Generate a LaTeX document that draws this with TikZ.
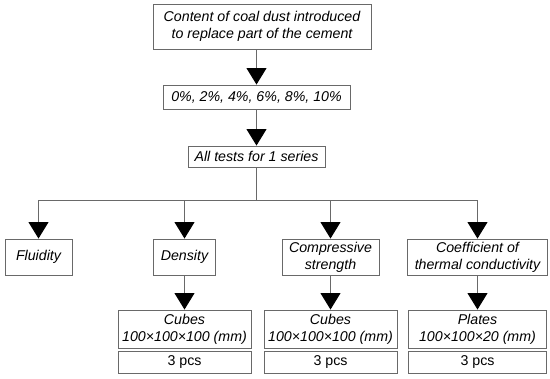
\documentclass[tikz,border=0pt]{standalone}
\usepackage{fontspec}
\setmainfont{Liberation Sans}
\usetikzlibrary{arrows.meta}
\definecolor{LineGray}{RGB}{105,105,105}

\begin{document}
\begin{tikzpicture}[x=1pt, y=-1pt,
          box/.style={rectangle, draw=LineGray, line width=0.9pt,
                      inner sep=0pt, align=center,
                      font=\fontsize{14.2}{16.8}\selectfont\itshape},
          cnt/.style={box, font=\fontsize{14.2}{16.8}\selectfont},
          lnk/.style={draw=LineGray, line width=0.9pt},
          arr/.style={lnk, -{Triangle[width=20pt, length=16.5pt, color=black]}}
        ]
        \useasboundingbox (0,0) rectangle (550,379);
        % Content of coal dust
        \node[box, minimum width=218, minimum height=45]
              (content) at (262, 26.5)
              {Content of coal dust introduced\\to replace part of the cement};
        \node[box, minimum width=187, minimum height=24]
              (pct) at (256.5, 97) {0\%, 2\%, 4\%, 6\%, 8\%, 10\%};
        \draw[arr] (pct.north |- content.south)--(pct.north);
        % Tests of one series
        \node[box, minimum width=137, minimum height=21]
              (tests) at (256.5, 156.5) {All tests for 1 series};
        \draw[arr] (pct)--(tests);
        \coordinate (split) at (256.5, 200);
        \draw[lnk] (tests)--(split);
        % Test types
        \node[box, minimum width=67, minimum height=36]
              (fluid) at (38.5, 257) {Fluidity};
        \node[box, minimum width=62, minimum height=36]
              (dens) at (184.5, 257) {Density};
        \node[box, minimum width=97, minimum height=36]
              (comp) at (330.5, 257) {Compressive\\strength};
        \node[box, minimum width=140, minimum height=36]
              (coef) at (477.5, 257) {Coefficient of\\thermal conductivity};
        \draw[arr] (split) -| (fluid);
        \draw[arr] (split) -| (dens);
        \draw[arr] (split) -| (comp);
        \draw[arr] (split) -| (coef);
        % Samples
        \node[box, minimum width=133, minimum height=38]
              (cub1) at (184.5, 329) {Cubes\\100×100×100 (mm)};
        \node[box, minimum width=133, minimum height=38]
              (cub2) at (330.5, 329) {Cubes\\100×100×100 (mm)};
        \node[box, minimum width=138, minimum height=38]
              (plat) at (477.5, 329) {Plates\\100×100×20 (mm)};
        \draw[arr] (dens)--(cub1);
        \draw[arr] (comp)--(cub2);
        \draw[arr] (coef)--(plat);
        % Number of pieces
        \node[cnt, minimum width=133, minimum height=22]
              (pcs1) at (184.5, 362) {3 pcs};
        \node[cnt, minimum width=133, minimum height=22]
              (pcs2) at (330.5, 362) {3 pcs};
        \node[cnt, minimum width=138, minimum height=22]
              (pcs3) at (477.5, 362) {3 pcs};
      \end{tikzpicture}
\end{document}
